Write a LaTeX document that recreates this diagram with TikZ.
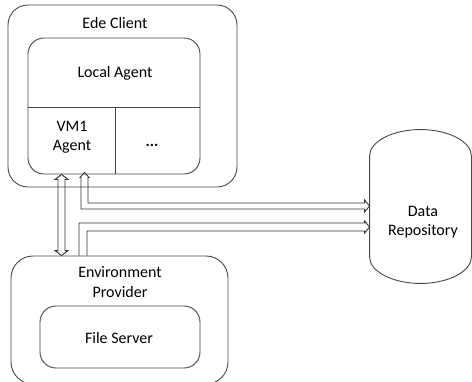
\documentclass[tikz,border=0pt]{standalone}
\usepackage{fontspec}
\setmainfont{Carlito}
\usetikzlibrary{calc}
\begin{document}
\begin{tikzpicture}[x=1pt,y=-1pt,
  line width=0.9pt,
  edge/.style={draw=black!72},
  box/.style={edge, rounded corners=#1, inner sep=0pt},
  lbl/.style={font=\fontsize{16}{19.5}\selectfont, align=center, inner sep=0pt},
  blockarrow/.style={draw=black!80, line join=miter}]
\useasboundingbox (0,0) rectangle (472,381);

% Ede Client with its Local Agent
\node[box=20pt, minimum width=229pt, minimum height=182pt] (ede) at (122.5,96) {};
\node[lbl] (edetitle) at (115,23) {Ede Client};
\node[box=16pt, minimum width=172pt, minimum height=136pt] (local) at (114,106) {};
\coordinate (split) at (115,107);
\draw[edge] (local.west |- split) -- (local.east |- split);
\draw[edge] (split) -- (split |- local.south);
\node[lbl] (localtitle) at (115,73) {Local Agent};
\node[lbl] (vm1) at (72,137) {VM1\\Agent};
\node[lbl, anchor=base] (more) at (152,146) {\textbf{...}};

% Environment Provider with its File Server
\node[box=22pt, minimum width=217pt, minimum height=128pt] (env) at (119.5,320) {};
\node[lbl] (envtitle) at (120,282) {Environment\\Provider};
\node[box=16pt, minimum width=160pt, minimum height=62pt] (fs) at (120,337) {};
\node[lbl] (fstitle) at (119,338) {File Server};

% Data Repository cylinder (top arc, sides, bottom arc)
\node[lbl, minimum width=101pt, minimum height=153pt] (repo) at (420.5,206.5) {};
\node[lbl] (repotitle) at (423,222) {Data\\Repository};
\draw[edge] ($(repo.west)+(0,-50.5)$)
  .. controls ($(repo.west)+(0,-64.9)$) and ($(repo.north)+(-27.9,0)$) .. (repo.north)
  .. controls ($(repo.north)+(27.9,0)$) and ($(repo.east)+(0,-64.9)$) .. ($(repo.east)+(0,-50.5)$)
  -- ($(repo.east)+(0,50.5)$)
  .. controls ($(repo.east)+(0,64.9)$) and ($(repo.south)+(27.9,0)$) .. (repo.south)
  .. controls ($(repo.south)+(-27.9,0)$) and ($(repo.west)+(0,64.9)$) .. ($(repo.west)+(0,50.5)$)
  -- cycle;

% Two-way link between the VM1 agent and the environment provider
\coordinate (lt) at (61.5,0);
\draw[blockarrow] (lt |- local.south)
  -- ++(6.5,5) -- ++(-3,0) -- ($(lt |- env.north)+(3.5,-5)$) -- ++(3,0)
  -- (lt |- env.north) -- ++(-6.5,-5) -- ++(3,0) -- ($(lt |- local.south)+(-3.5,5)$)
  -- ++(-3,0) -- cycle;

% VM1 agent to data repository
\coordinate (ut) at (84.5,0);
\coordinate (uy) at (0,206);
\draw[blockarrow] ($(ut |- local.south)+(0,-2)$)
  -- ++(4.5,5) -- ++(-1,0) -- ($(ut |- uy)+(3.5,-3)$)
  -- ($(repo.west |- uy)+(-5,-3)$) -- ++(0,-3) -- (repo.west |- uy)
  -- ($(repo.west |- uy)+(-5,6)$) -- ++(0,-3)
  -- ($(ut |- uy)+(-3.5,3)$) -- ($(ut |- local.south)+(-3.5,3)$) -- ++(-1,0) -- cycle;

% Environment provider to data repository
\coordinate (lo) at (83,0);
\coordinate (ly) at (0,227);
\draw[blockarrow] ($(lo |- env.north)+(-4,0)$)
  -- ($(lo |- ly)+(-4,-4)$) -- ($(repo.west |- ly)+(-5,-4)$) -- ++(0,-2)
  -- (repo.west |- ly) -- ($(repo.west |- ly)+(-5,6)$) -- ++(0,-2)
  -- ($(lo |- ly)+(4,4)$) -- ($(lo |- env.north)+(4,0)$);
\end{tikzpicture}
\end{document}
